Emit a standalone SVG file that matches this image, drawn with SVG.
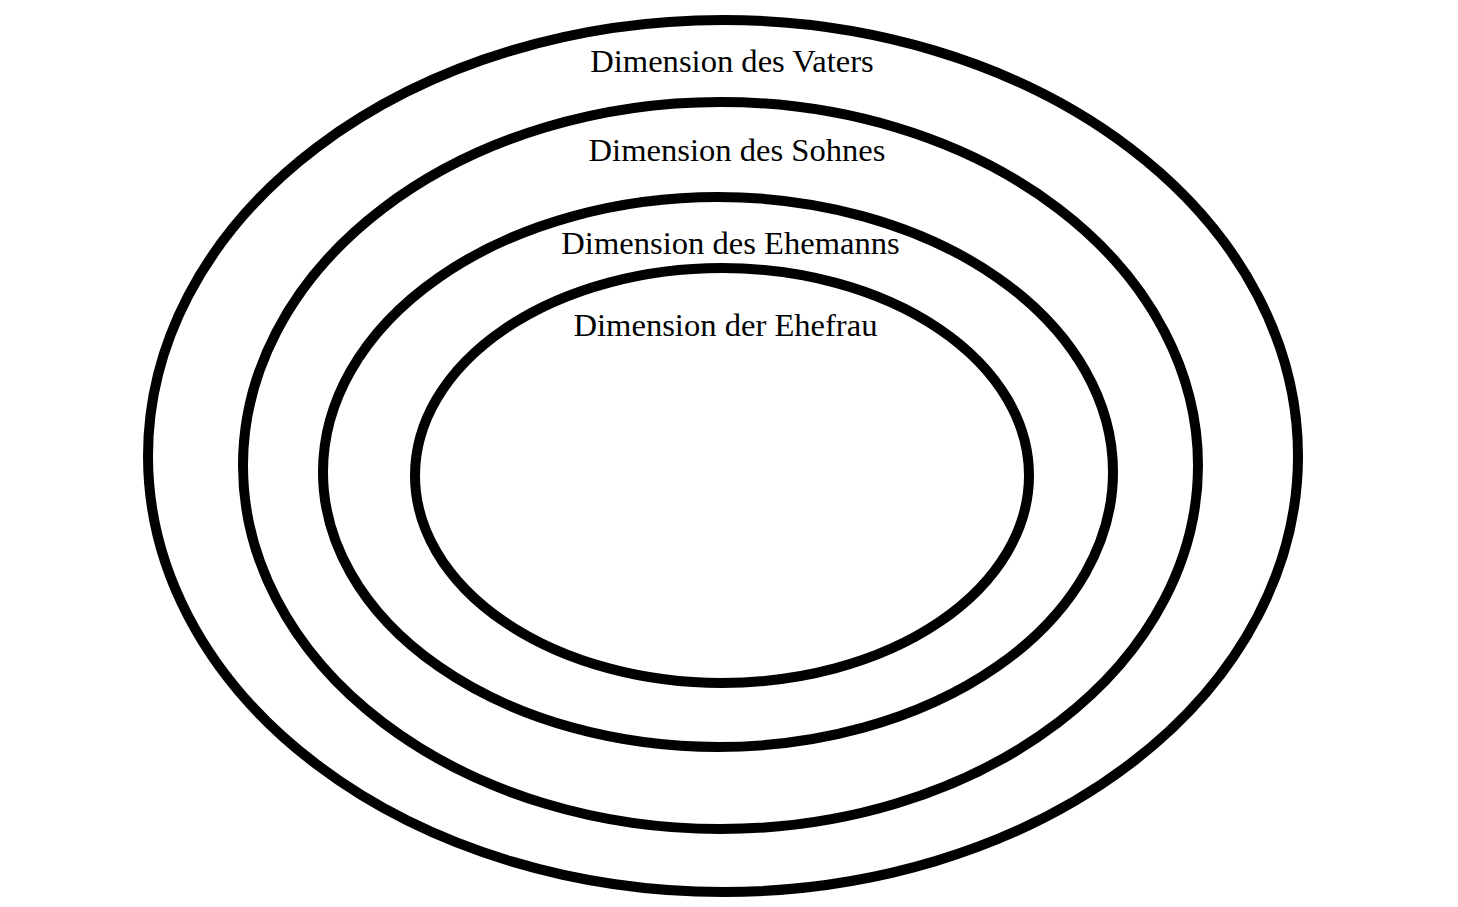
<svg xmlns="http://www.w3.org/2000/svg" width="1458" height="907" viewBox="0 0 1458 907">
<style>
.ring{fill:none;stroke:#000;stroke-width:10}
.lbl{font-family:"Liberation Serif","Times New Roman",serif;font-size:32.6px;fill:#000;text-anchor:middle}
</style>
<rect width="1458" height="907" fill="#fff"/>
<g id="vater"><ellipse class="ring" cx="723" cy="456" rx="575" ry="436"/><text class="lbl" x="732" y="72">Dimension des Vaters</text></g>
<g id="sohn"><ellipse class="ring" cx="720.5" cy="465.5" rx="477.5" ry="363.5"/><text class="lbl" x="737" y="161">Dimension des Sohnes</text></g>
<g id="ehemann"><ellipse class="ring" cx="718" cy="472" rx="395" ry="275"/><text class="lbl" x="730.5" y="254">Dimension des Ehemanns</text></g>
<g id="ehefrau"><ellipse class="ring" cx="722" cy="475.5" rx="307" ry="207.5"/><text class="lbl" x="725.5" y="336">Dimension der Ehefrau</text></g>
<g id="connectors"/>
</svg>
